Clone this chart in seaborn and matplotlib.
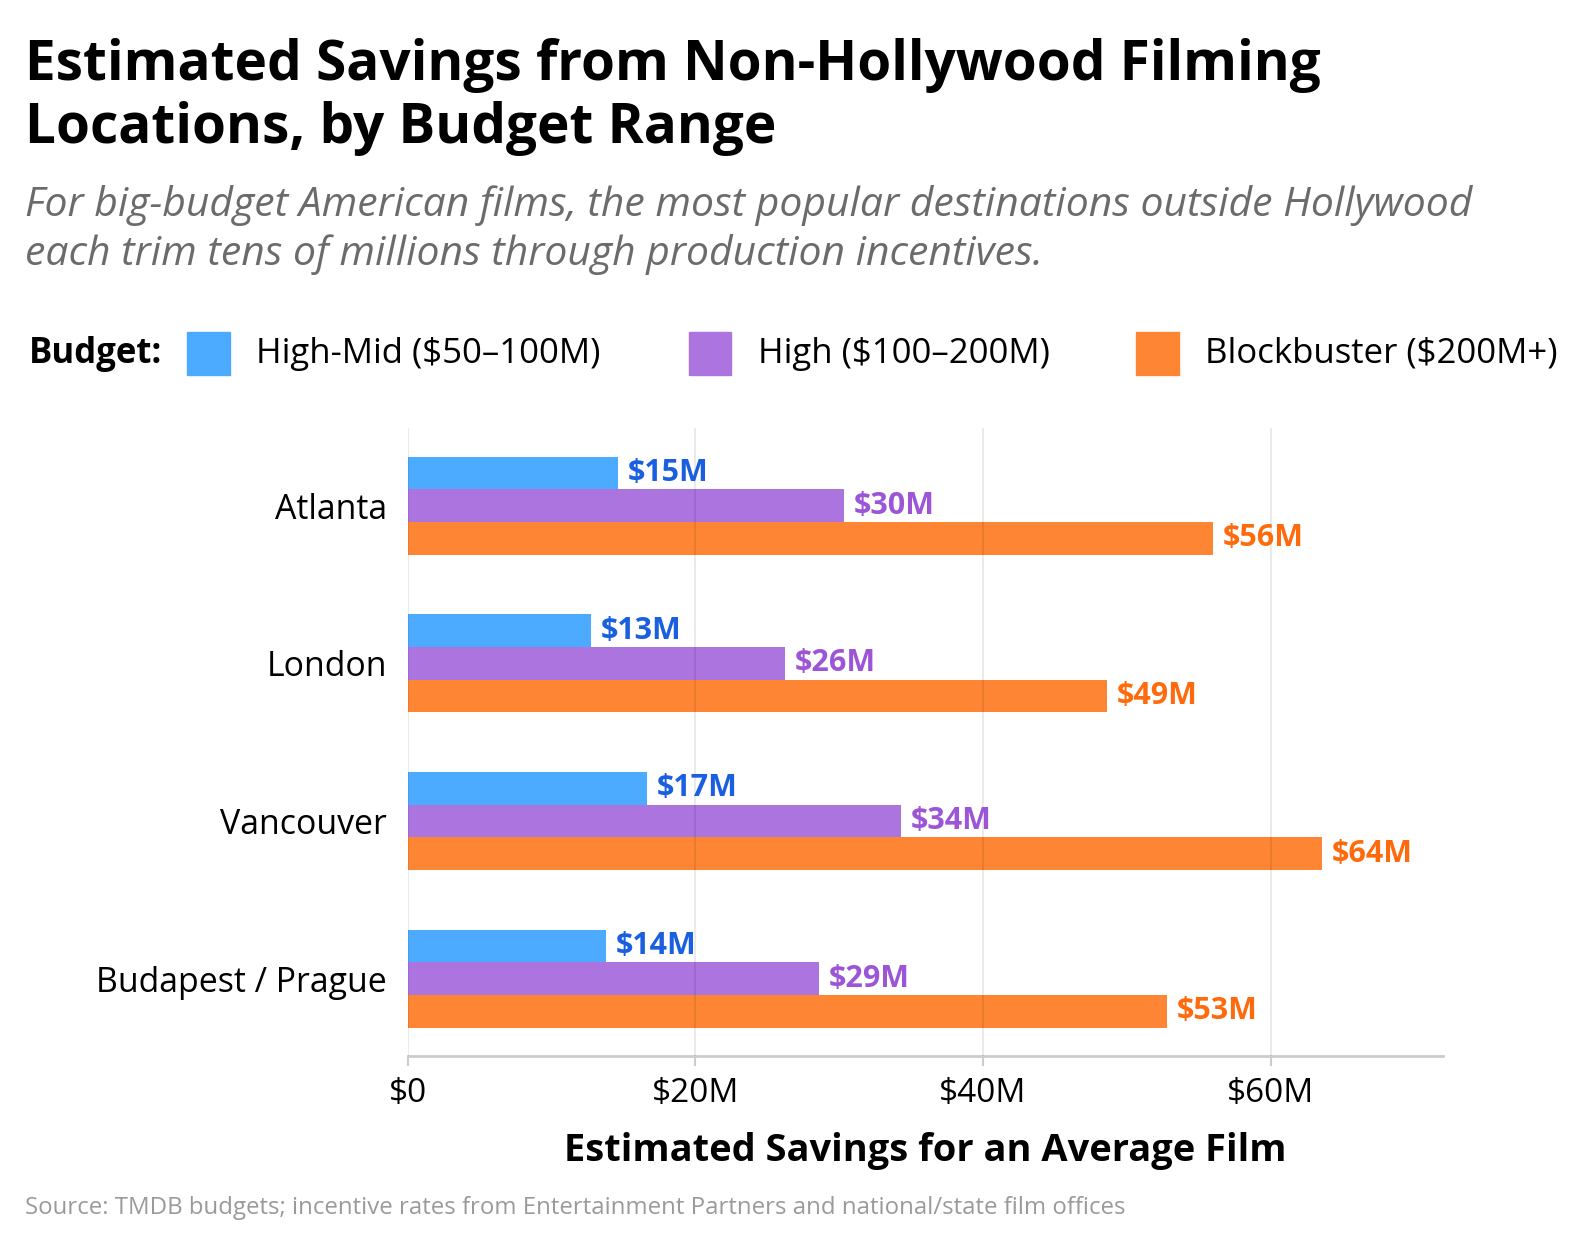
import pandas as pd
import matplotlib.pyplot as plt
import seaborn as sns
from matplotlib.patches import Rectangle
from matplotlib.ticker import FuncFormatter

# Data (estimated savings, $M)
cities = ["Atlanta", "London", "Vancouver", "Budapest / Prague"]
budgets = ["High-Mid ($50–100M)", "High ($100–200M)", "Blockbuster ($200M+)"]
high_mid = [14.6, 12.7, 16.6, 13.8]
high = [30.3, 26.2, 34.3, 28.6]
blockbuster = [56.0, 48.6, 63.6, 52.8]

bar_colors = ["#4DABFF", "#AC74DF", "#FD8533"]
label_colors = ["#1A5FE0", "#9B55D6", "#FF6A0D"]

df = pd.DataFrame({
    "city": cities * 3,
    "budget": [b for b in budgets for _ in cities],
    "savings": high_mid + high + blockbuster,
})

sns.set_theme(style="white")
plt.rcParams["font.family"] = ["Open Sans", "DejaVu Sans"]
plt.rcParams["text.color"] = "black"

fig = plt.figure(figsize=(15.88, 12.4), dpi=100)
ax = fig.add_axes([0.2569, 0.1484, 0.9087 - 0.2569, 0.6545 - 0.1484])

sns.barplot(
    data=df,
    y="city",
    x="savings",
    hue="budget",
    hue_order=budgets,
    order=cities,
    palette=bar_colors,
    saturation=1,
    width=0.62,
    orient="h",
    legend=False,
    linewidth=0,
    edgecolor="none",
    ax=ax,
)

# value labels
for container, col in zip(ax.containers, label_colors):
    ax.bar_label(
        container,
        labels=[f"${v:.0f}M" for v in container.datavalues],
        padding=7,
        color=col,
        fontsize=22,
        fontweight="bold",
    )

ax.set_xlim(0, 72)
ax.set_ylim(3.49, -0.49)
ax.set_xticks([0, 20, 40, 60])
ax.xaxis.set_major_formatter(FuncFormatter(lambda v, p: "$0" if v == 0 else f"${v:.0f}M"))

ax.set_axisbelow(False)
ax.grid(axis="x", color="black", alpha=0.09, linewidth=1.3)
ax.grid(axis="y", visible=False)

for s in ["top", "right", "left"]:
    ax.spines[s].set_visible(False)
ax.spines["bottom"].set_color("#cccccc")
ax.spines["bottom"].set_linewidth(2)

ax.tick_params(axis="x", colors="#cccccc", length=7, width=1.5, labelsize=24,
               labelcolor="black", pad=8, bottom=True)
ax.tick_params(axis="y", length=0, labelsize=24.4, labelcolor="black", pad=15)

ax.set_ylabel("")
ax.set_xlabel("Estimated Savings for an Average Film", fontsize=27.4,
              fontweight="bold", labelpad=16, color="black")

# title and subtitle
fig.text(25 / 1588, 1 - 97 / 1240,
         "Estimated Savings from Non-Hollywood Filming\nLocations, by Budget Range",
         fontsize=39.5, fontweight="bold", ha="left", va="center", linespacing=1.2)
fig.text(25 / 1588, 1 - 230 / 1240,
         "For big-budget American films, the most popular destinations outside Hollywood\n"
         "each trim tens of millions through production incentives.",
         fontsize=29.4, style="italic", color="#6b6b6b", ha="left", va="center",
         linespacing=1.26)

# legend
ly = 1 - 353.5 / 1240
fig.text(28.4 / 1588, ly, "Budget:", fontsize=25, fontweight="bold", ha="left", va="center")
patch_x = [187.4, 688.7, 1136.3]
text_x = [256.2, 757.5, 1205.2]
for px, tx, lab, col in zip(patch_x, text_x, budgets, bar_colors):
    fig.add_artist(Rectangle((px / 1588, 1 - 374.7 / 1240), 42.5 / 1588, 42.5 / 1240,
                             transform=fig.transFigure, color=col))
    fig.text(tx / 1588, ly, lab, fontsize=25, ha="left", va="center")

fig.text(25 / 1588, 1 - 1208 / 1240,
         "Source: TMDB budgets; incentive rates from Entertainment Partners and national/state film offices",
         fontsize=17.3, color="#9a9a9a", ha="left", va="center")

plt.savefig("out.png", dpi=100)
